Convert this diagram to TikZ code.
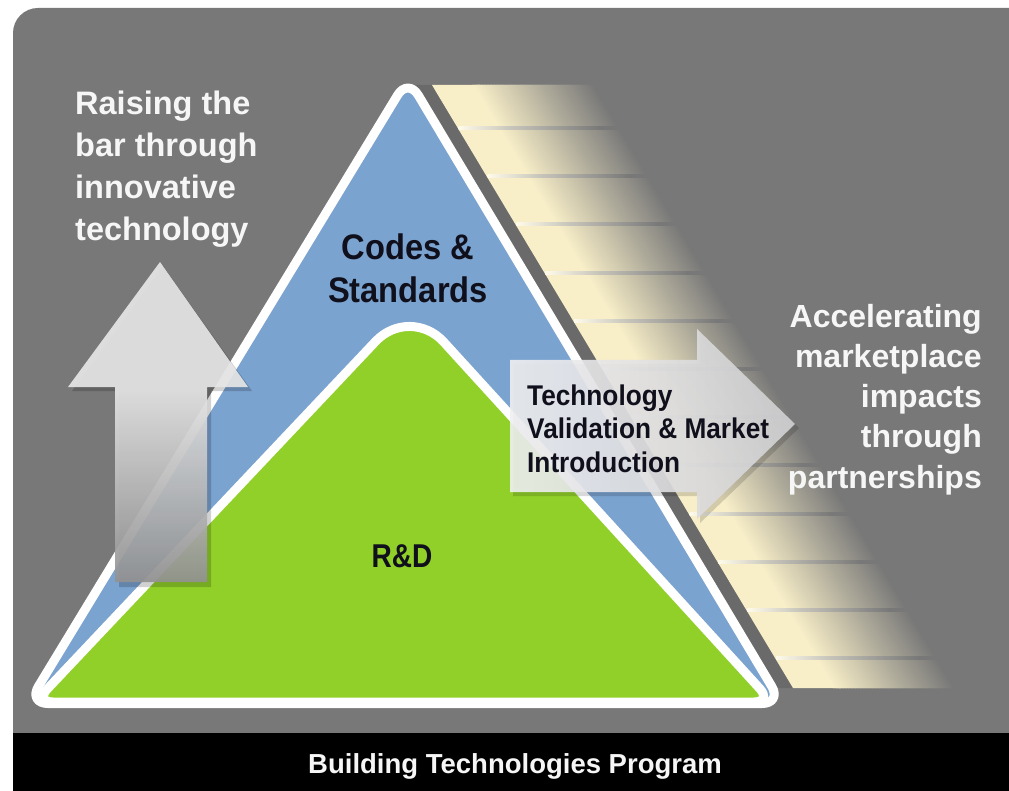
\documentclass[tikz,border=0pt]{standalone}
\usepackage{fontspec}
\newfontfamily\fA{Liberation Sans}
\newfontfamily\fB[FakeStretch=0.92]{Liberation Sans}
\newfontfamily\fC[FakeStretch=0.85]{Liberation Sans}
\definecolor{bg}{HTML}{787878}
\definecolor{cream}{HTML}{F8EEC8}
\definecolor{linecr}{HTML}{FFFBEA}
\colorlet{linemid}{linecr!60!bg}
\definecolor{tblue}{HTML}{7BA3CF}
\definecolor{tgreen}{HTML}{91D028}
\definecolor{ink}{HTML}{10101C}
\definecolor{shadowg}{HTML}{6A6A6A}
\definecolor{arlight}{HTML}{E6E6E6}
\definecolor{ardark}{HTML}{929292}
\definecolor{raleft}{HTML}{F0F0F2}
\definecolor{raright}{HTML}{D2D2D4}
\definecolor{offwhite}{HTML}{F6F6F6}
\pgfdeclarehorizontalshading{linefade}{100bp}{color(0bp)=(linecr); color(25bp)=(linecr); color(36bp)=(linemid); color(56bp)=(bg); color(100bp)=(bg)}
\pgfdeclareverticalshading{upfade}{100bp}{color(0bp)=(ardark); color(25bp)=(ardark); color(55bp)=(arlight); color(100bp)=(arlight)}
\pgfdeclarehorizontalshading{rightfade}{100bp}{color(0bp)=(raleft); color(25bp)=(raleft); color(75bp)=(raright); color(100bp)=(raright)}
\tikzset{
  wt/.style={text=offwhite, inner sep=0pt},
  dk/.style={text=ink, inner sep=0pt},
  tri/.style={draw=white, line width=9pt, line join=round},
}
\begin{document}
\begin{tikzpicture}[x=1pt,y=-1pt]
\useasboundingbox (0,0) rectangle (1009,791);
\fill[white] (0,0) rectangle (1009,791);
% panel and footer bar
\fill[bg] (13,733) [rounded corners=25pt] -- (13,8) [sharp corners] -- (1009,8) -- (1009,733) -- cycle;
\fill[black] (13,733) rectangle (1009,791);
% shadow stripe behind triangle
\fill[shadowg] (400,85) -- (432,85) -- (793,688) -- (761,688) -- cycle;
% shaded band: slanted layers fading from cream to the panel grey
\fill[cream] (432,85) -- (480,85) -- (841,688) -- (793,688) -- cycle;
\foreach \k in {0,...,40}{
  \pgfmathsetmacro\off{40+\k*3}
  \pgfmathsetmacro\pc{100-\k*2.5}
  \fill[cream!\pc!bg] (432+\off,85) -- (432+\off+8,85) -- (793+\off+8,688) -- (793+\off,688) -- cycle;
}
\foreach \yl in {128,176.2,224.4,272.6,320.8,369,417.2,465.4,513.6,561.8,610,658}{
  \pgfmathsetmacro\xl{432+(\yl-85)*0.5987}
  \shade[shading=linefade] (\xl+1,\yl-1.5) rectangle (\xl+230,\yl+1.5);
}
% triangles
\path[tri, fill=tblue, rounded corners=20pt] (595,390.75) -- (782,703.5) -- (28,703.5) -- (408,78) -- cycle;
\path[tri, fill=tgreen] (222.5,503.5) [rounded corners=50pt] -- (410,305) -- (591,503.5) [rounded corners=18pt] -- (772,702) -- (35,702) -- cycle;
% up arrow
\fill[black, opacity=0.18] (163,266) -- (252,391) -- (211,391) -- (211,587) -- (119,587) -- (119,391) -- (72,391) -- cycle;
\shade[shading=upfade, opacity=0.92] (160,262) -- (248,387) -- (207,387) -- (207,582) -- (115,582) -- (115,387) -- (68,387) -- cycle;
% right arrow
\fill[black, opacity=0.15] (513,364) -- (700,364) -- (700,333) -- (799,428) -- (700,523) -- (700,496) -- (513,496) -- cycle;
\shade[shading=rightfade, opacity=0.9] (510,360) -- (697,360) -- (697,329) -- (795,424) -- (697,519) -- (697,492) -- (510,492) -- cycle;
% texts (base anchor of a multi-line node = baseline of its last line)
\node[wt, anchor=base west, align=left, font=\fA\bfseries\fontsize{32.5}{41.8}\selectfont] (raise) at (75,240.4) {Raising the\\bar through\\innovative\\technology};
\node[dk, anchor=base, align=center, font=\fB\bfseries\fontsize{35.5}{43}\selectfont] (codes) at (408,303) {Codes \&\\Standards};
\node[dk, anchor=base, font=\fC\bfseries\fontsize{33}{40}\selectfont] (rd) at (402,567) {R\&D};
\node[dk, anchor=base west, align=left, font=\fB\bfseries\fontsize{28.5}{33.5}\selectfont] (tv) at (527,472) {Technology\\Validation \& Market\\Introduction};
\node[wt, anchor=base east, align=right, font=\fA\bfseries\fontsize{32}{40.3}\selectfont] (acc) at (982,488.2) {Accelerating\\marketplace\\impacts\\through\\partnerships};
\node[wt, anchor=base, font=\fA\bfseries\fontsize{27.5}{33}\selectfont] (btp) at (515,773) {Building Technologies Program};
\end{tikzpicture}
\end{document}
